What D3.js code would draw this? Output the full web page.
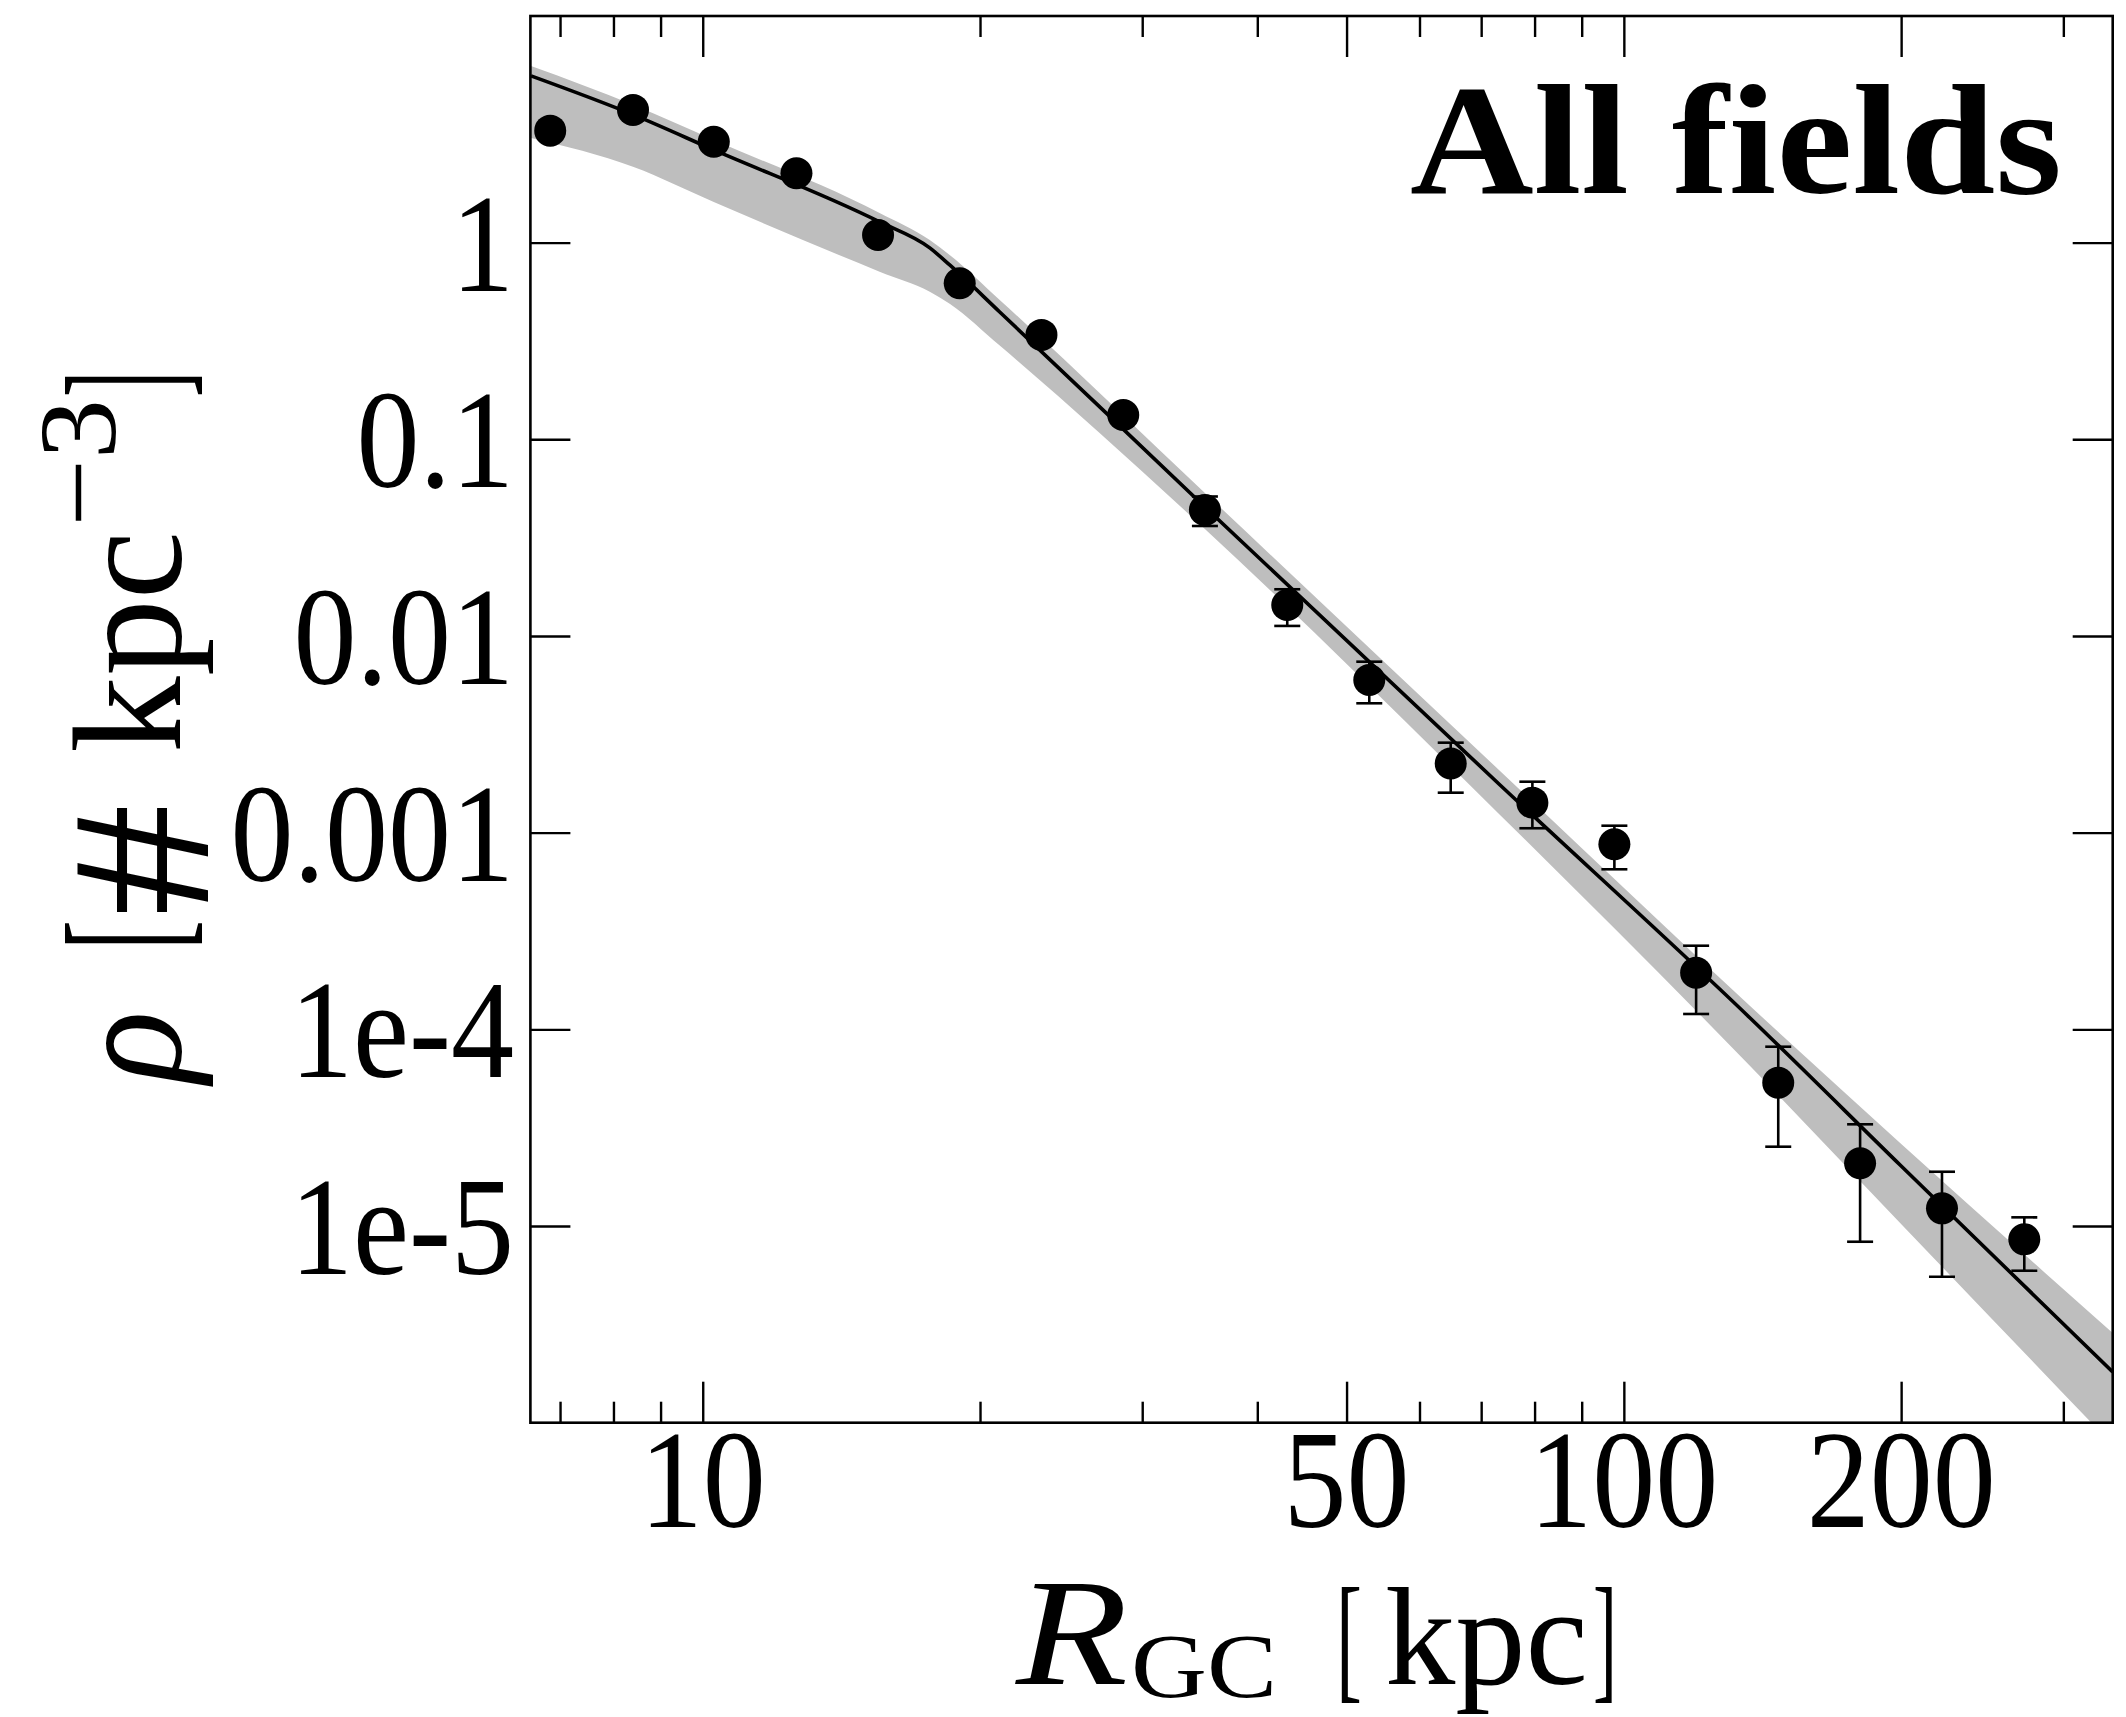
<!DOCTYPE html>
<html><head><meta charset="utf-8">
<script src="https://cdn.jsdelivr.net/npm/d3@7"></script>
<style>html,body{margin:0;padding:0;background:#fff;} svg{display:block;}</style>
</head><body>
<svg id="chart" width="2126" height="1717"></svg>
<script>
// ---- data ----
const radius = [6.83, 8.40, 10.28, 12.64, 15.50, 19.01, 23.32, 28.61, 35.09, 43.11, 52.92, 64.87, 79.56, 97.66, 119.8, 147.1, 180.5, 221.5, 272.1];
const density = [3.71, 4.73, 3.26, 2.254, 1.094, 0.6217, 0.3394, 0.1330, 0.04374, 0.01438, 0.005974, 0.002248, 0.001421, 8.726e-4, 1.941e-4, 5.355e-5, 2.084e-5, 1.230e-5, 8.557e-6];
const densityLo = [3.45, 4.45, 3.05, 2.10, 1.02, 0.58, 0.315, 0.122, 0.03625, 0.01125, 0.004548, 0.001597, 0.001053, 6.513e-4, 1.197e-4, 2.531e-5, 8.32e-6, 5.524e-6, 5.925e-6];
const densityHi = [3.97, 5.01, 3.47, 2.41, 1.17, 0.66, 0.364, 0.144, 0.0512, 0.01728, 0.007402, 0.002868, 0.001816, 0.001085, 2.662e-4, 8.161e-5, 3.290e-5, 1.888e-5, 1.107e-5];

const modelR   = [6.51, 8.414, 10.28, 15.56, 17.64, 18.54, 21.01, 35.09, 73.38, 137.1, 199.5, 339.4];
const modelRho = [7.04, 4.46, 2.961, 1.274, 0.9398, 0.7702, 0.4442, 0.04530, 0.001748, 1.1418e-4, 2.0427e-5, 1.8099e-6];
const bandHi   = [7.915, 5.013, 3.329, 1.416, 1.032, 0.8660, 0.5112, 0.05337, 0.002059, 1.3143e-4, 2.642e-5, 2.857e-6];
const bandLo   = [3.408, 2.426, 1.610, 0.7121, 0.5633, 0.4896, 0.2995, 0.03500, 0.001231, 6.514e-5, 1.0362e-5, 7.708e-7];

const xMajor = [10, 50, 100, 200];
const xMajorLabels = ["10", "50", "100", "200"];
const xMinor = [7, 8, 9, 20, 30, 40, 60, 70, 80, 90, 300];
const yMajor = [1, 0.1, 0.01, 0.001, 1e-4, 1e-5];
const yMajorLabels = ["1", "0.1", "0.01", "0.001", "1e-4", "1e-5"];
const panelTitle = "All fields";

// ---- layout ----
const svg = d3.select("#chart");
const L = 530.4, Rt = 2112.7, T = 16, B = 1422.7;
const x = d3.scaleLog().domain([6.5, 339.4]).range([L, Rt]);
const y = d3.scaleLog().domain([1e-6, 14.2]).range([B, T]);
const FONT = "'Liberation Serif','Times New Roman',serif";

svg.append("defs").append("clipPath").attr("id", "clip")
  .append("rect").attr("x", L).attr("y", T).attr("width", Rt - L).attr("height", B - T);

const plot = svg.append("g").attr("clip-path", "url(#clip)");

const idx = d3.range(modelR.length);
plot.append("path")
  .attr("d", d3.area().curve(d3.curveMonotoneX)
    .x(i => x(modelR[i])).y0(i => y(bandLo[i])).y1(i => y(bandHi[i]))(idx))
  .attr("fill", "#bebebe").attr("stroke", "none");

plot.append("path")
  .attr("d", d3.line().curve(d3.curveMonotoneX)
    .x(i => x(modelR[i])).y(i => y(modelRho[i]))(idx))
  .attr("fill", "none").attr("stroke", "#000").attr("stroke-width", 3.6);

const pts = d3.range(radius.length);
const eb = plot.append("g").attr("stroke", "#000").attr("stroke-width", 2.6);
pts.forEach(i => {
  const cx = x(radius[i]);
  eb.append("line").attr("x1", cx).attr("x2", cx).attr("y1", y(densityLo[i])).attr("y2", y(densityHi[i]));
  eb.append("line").attr("x1", cx - 13).attr("x2", cx + 13).attr("y1", y(densityLo[i])).attr("y2", y(densityLo[i]));
  eb.append("line").attr("x1", cx - 13).attr("x2", cx + 13).attr("y1", y(densityHi[i])).attr("y2", y(densityHi[i]));
});
plot.append("g").selectAll("circle").data(pts).join("circle")
  .attr("cx", i => x(radius[i])).attr("cy", i => y(density[i])).attr("r", 16).attr("fill", "#000");

// ---- axes (inward ticks on all sides) ----
function styleAxis(g) {
  g.select(".domain").remove();
  g.selectAll(".tick line").attr("stroke", "#000").attr("stroke-width", 2.4);
  g.selectAll(".tick text").remove();
}
svg.append("g").attr("transform", `translate(0,${B})`).call(d3.axisBottom(x).tickValues(xMajor).tickSize(-41).tickFormat("")).call(styleAxis);
svg.append("g").attr("transform", `translate(0,${B})`).call(d3.axisBottom(x).tickValues(xMinor).tickSize(-21).tickFormat("")).call(styleAxis);
svg.append("g").attr("transform", `translate(0,${T})`).call(d3.axisTop(x).tickValues(xMajor).tickSize(-41).tickFormat("")).call(styleAxis);
svg.append("g").attr("transform", `translate(0,${T})`).call(d3.axisTop(x).tickValues(xMinor).tickSize(-21).tickFormat("")).call(styleAxis);
svg.append("g").attr("transform", `translate(${L},0)`).call(d3.axisLeft(y).tickValues(yMajor).tickSize(-40).tickFormat("")).call(styleAxis);
svg.append("g").attr("transform", `translate(${Rt},0)`).call(d3.axisRight(y).tickValues(yMajor).tickSize(-40).tickFormat("")).call(styleAxis);

svg.append("rect").attr("x", L).attr("y", T).attr("width", Rt - L).attr("height", B - T)
  .attr("fill", "none").attr("stroke", "#000").attr("stroke-width", 2.6);

// ---- text helper ----
function txt(parent, s, o) {
  const t = parent.append("text").text(s)
    .attr("x", o.x).attr("y", o.y)
    .attr("font-family", FONT).attr("font-size", o.size)
    .attr("font-style", o.italic ? "italic" : "normal")
    .attr("font-weight", o.bold ? "bold" : "normal")
    .attr("text-anchor", o.anchor || "start").attr("fill", "#000");
  if (o.len) t.attr("textLength", o.len).attr("lengthAdjust", "spacingAndGlyphs");
  else if (o.sx) {
    const w = t.node().getComputedTextLength();
    t.attr("textLength", w * o.sx).attr("lengthAdjust", "spacingAndGlyphs");
  }
  return t;
}

// tick labels
yMajor.forEach((v, i) => txt(svg, yMajorLabels[i], {x: 514, y: y(v) + 48, size: 140, anchor: "end", sx: 0.9}));
xMajor.forEach((v, i) => txt(svg, xMajorLabels[i], {x: x(v), y: 1527, size: 140, anchor: "middle", sx: 0.9}));

// panel title
txt(svg, panelTitle, {x: 2062, y: 193, size: 157, bold: true, anchor: "end", len: 652});

// x axis label: R_GC [kpc]  (pieces laid side by side, no overlap)
txt(svg, "R",   {x: 1016, y: 1684, size: 152, italic: true, len: 112});
txt(svg, "GC",  {x: 1131, y: 1697, size: 92,  len: 146});
txt(svg, "[",   {x: 1336, y: 1684, size: 140, len: 26});
txt(svg, "kpc", {x: 1385, y: 1684, size: 140, len: 203});
txt(svg, "]",   {x: 1593, y: 1684, size: 140, len: 24});

// y axis label: rho [# kpc^-3]
const yl = svg.append("g").attr("transform", "translate(180,1080) rotate(-90)");
txt(yl, "ρ",   {x: -3,  y: 0,   size: 157, italic: true, len: 72});
txt(yl, "[",   {x: 130, y: 0,   size: 165, len: 30});
txt(yl, "#",   {x: 164, y: 28,  size: 200, len: 112});
txt(yl, "kpc", {x: 327, y: 0,   size: 154, len: 222});
txt(yl, "−3",  {x: 553, y: -65, size: 110, len: 128});
txt(yl, "]",   {x: 683, y: 0,   size: 165, len: 26});
</script>
</body></html>
